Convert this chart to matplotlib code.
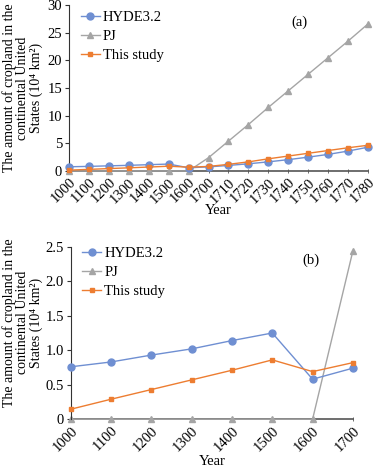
import matplotlib
matplotlib.use("Agg")
import matplotlib.pyplot as plt
import numpy as np

plt.rcParams['font.family'] = ['Liberation Serif', 'DejaVu Serif']

years_a = ["1000", "1100", "1200", "1300", "1400", "1500", "1600", "1700",
           "1710", "1720", "1730", "1740", "1750", "1760", "1770", "1780"]
hyde_a = [0.76, 0.83, 0.93, 1.02, 1.14, 1.25, 0.58, 0.74,
          1.0, 1.3, 1.65, 2.05, 2.5, 3.0, 3.6, 4.3]
pj_a = [0, 0, 0, 0, 0, 0, 0, 2.4, 5.4, 8.4, 11.5, 14.5, 17.5, 20.5, 23.5, 26.6]
study_a = [0.15, 0.29, 0.43, 0.57, 0.71, 0.86, 0.69, 0.82,
           1.2, 1.65, 2.2, 2.7, 3.2, 3.7, 4.2, 4.65]

years_b = ["1000", "1100", "1200", "1300", "1400", "1500", "1600", "1700"]
hyde_b = [0.76, 0.83, 0.93, 1.02, 1.14, 1.25, 0.58, 0.74]
pj_b = [0, 0, 0, 0, 0, 0, 0, 2.44]
study_b = [0.145, 0.29, 0.43, 0.57, 0.71, 0.86, 0.69, 0.82]

yticks_a = [0, 5, 10, 15, 20, 25, 30]
yticklabels_a = ["0", "5", "10", "15", "20", "25", "30"]
yticks_b = [0, 0.5, 1.0, 1.5, 2.0, 2.5]
yticklabels_b = ["0", "0.5", "1.0", "1.5", "2.0", "2.5"]

c_hyde = "#6F8FD2"
c_pj = "#A5A5A5"
c_study = "#ED7D31"

ylabel = "The amount of cropland in the\ncontinental United\nStates (10\u2074 km\u00b2)"

fig = plt.figure(figsize=(3.77, 4.71), dpi=100)

def panel(rect, years, hyde, pj, study, yticks, ylabels, ymax, tag, tagpos, legy):
    ax = fig.add_axes(rect)
    x = np.arange(len(years))
    ax.plot(x, pj, color=c_pj, marker="^", ms=4.5, lw=1.0, label="PJ", zorder=2)
    ax.plot(x, hyde, color=c_hyde, marker="o", ms=5, lw=1.0, label="HYDE3.2", zorder=3)
    ax.plot(x, study, color=c_study, marker="s", ms=3.5, lw=1.0, label="This study", zorder=4)
    ax.set_xlim(0, len(years) - 1)
    ax.set_ylim(0, ymax)
    ax.set_xticks(x)
    ax.set_xticklabels(years, rotation=45, ha="right", rotation_mode="anchor", fontsize=10.5)
    ax.set_yticks(yticks)
    ax.set_yticklabels(ylabels, fontsize=10.5)
    ax.tick_params(axis="y", direction="out", length=3, width=0.8, pad=2, colors="#333333", labelcolor="black")
    ax.tick_params(axis="x", direction="inout", length=3, width=0.6, pad=2, colors="#555555", labelcolor="black")
    for s in ["top", "right"]:
        ax.spines[s].set_visible(False)
    ax.spines["left"].set_color("#333333")
    ax.spines["left"].set_linewidth(0.8)
    ax.spines["bottom"].set_color("#555555")
    ax.spines["bottom"].set_linewidth(1.2)
    ax.spines["bottom"].set_zorder(1)
    ax.set_xlabel("Year", fontsize=10.5, labelpad=1)
    ax.set_ylabel(ylabel, fontsize=10, linespacing=1.0)
    h, l = ax.get_legend_handles_labels()
    order = [1, 0, 2]
    ax.legend([h[i] for i in order], [l[i] for i in order], loc="upper left",
              bbox_to_anchor=(0.02, legy), frameon=False, fontsize=10.5,
              handlelength=1.3, handletextpad=0.2, labelspacing=0.4, borderaxespad=0)
    ax.text(tagpos[0], tagpos[1], tag, transform=ax.transAxes, fontsize=10.5, ha="center", va="center")
    for ln in ax.lines:
        ln.set_clip_on(False)
    return ax

axa = panel([0.183, 0.637, 0.793, 0.352], years_a, hyde_a, pj_a, study_a,
            yticks_a, yticklabels_a, 30, "(a)", (0.77, 0.90), 1.0)
axb = panel([0.188, 0.110, 0.748, 0.366], years_b, hyde_b, pj_b, study_b,
            yticks_b, yticklabels_b, 2.5, "(b)", (0.85, 0.92), 1.035)
axa.yaxis.set_label_coords(-0.087, 0.5)
axb.yaxis.set_label_coords(-0.099, 0.56)
axa.xaxis.set_label_coords(0.5, -0.2)

fig.savefig("out.png", dpi=100)
